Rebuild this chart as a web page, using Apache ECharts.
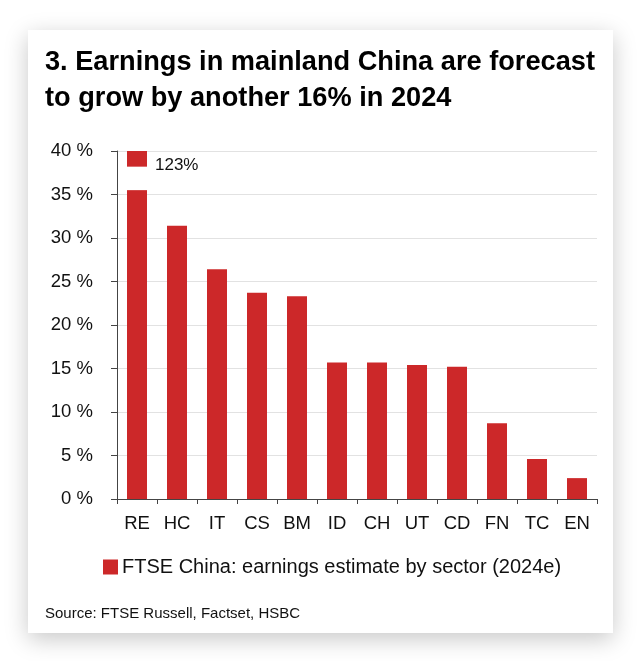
<!DOCTYPE html>
<html>
<head>
<meta charset="utf-8">
<script src="https://cdn.jsdelivr.net/npm/echarts@6/dist/echarts.min.js"></script>
<style>
html,body{margin:0;padding:0;background:#fff;}
#chart{width:640px;height:661px;}
</style>
</head>
<body>
<div id="chart"></div>
<script>
const categories = ['RE','HC','IT','CS','BM','ID','CH','UT','CD','FN','TC','EN'];
const values = [123, 31.4, 26.4, 23.7, 23.3, 15.7, 15.7, 15.4, 15.2, 8.7, 4.6, 2.4];
const seriesName = 'FTSE China: earnings estimate by sector (2024e)';
const yTicks = [0, 5, 10, 15, 20, 25, 30, 35, 40];
// axis break drawn on the RE bar: [category index, break start, break end]
const breakMarks = [[0, 35.5, 38.2]];
const titleText = '3. Earnings in mainland China are forecast\nto grow by another 16% in 2024';
const sourceText = 'Source: FTSE Russell, Factset, HSBC';

const RED = '#cc2829';
const FONT = '"Liberation Sans", Arial, Helvetica, sans-serif';
const chart = echarts.init(document.getElementById('chart'), null, {renderer: 'canvas'});

chart.setOption({
  backgroundColor: '#ffffff',
  animation: false,
  graphic: [
    {
      type: 'rect', z: -10, silent: true,
      shape: {x: 28, y: 30, width: 585, height: 603},
      style: {fill: '#ffffff', shadowBlur: 22, shadowColor: 'rgba(0,0,0,0.22)', shadowOffsetY: 6}
    },
    {
      type: 'text', left: 45, top: 606, silent: true,
      style: {text: sourceText, fill: '#111', font: '15px ' + FONT}
    }
  ],
  title: {
    text: titleText,
    left: 40, top: 40,
    textStyle: {fontFamily: FONT, fontWeight: 'bold', fontSize: 27.2, lineHeight: 36, color: '#000'}
  },
  legend: {
    left: 98, top: 552,
    icon: 'rect', itemWidth: 15, itemHeight: 15, itemGap: 5,
    textStyle: {fontFamily: FONT, fontSize: 20, color: '#111', padding: [0, 0, 0, -1]},
    data: [seriesName]
  },
  grid: {left: 117, right: 43, top: 151, bottom: 162, containLabel: false},
  xAxis: {
    type: 'category', data: categories,
    axisLine: {show: true, lineStyle: {color: '#444', width: 1}},
    axisTick: {show: true, length: 5, lineStyle: {color: '#444'}},
    axisLabel: {fontFamily: FONT, fontSize: 18.5, color: '#111', margin: 15, interval: 0}
  },
  yAxis: {
    type: 'value', min: 0, max: 40, interval: 5,
    axisLine: {show: true, lineStyle: {color: '#444', width: 1}},
    axisTick: {show: true, length: 6, lineStyle: {color: '#444'}},
    axisLabel: {fontFamily: FONT, fontSize: 18.5, color: '#111', margin: 24,
      formatter: v => yTicks.includes(v) ? v + ' %' : ''},
    splitLine: {show: true, lineStyle: {color: '#e2e2e2', width: 1}}
  },
  series: [
    {
      name: seriesName, type: 'bar', data: values, barWidth: '50%', clip: true,
      itemStyle: {color: RED}
    },
    {
      type: 'custom', silent: true, z: 5,
      data: breakMarks,
      encode: {x: 0, y: [1, 2]},
      renderItem: function (params, api) {
        const idx = api.value(0);
        const lo = api.coord([idx, api.value(1)]);
        const hi = api.coord([idx, api.value(2)]);
        const w = api.size([1, 0])[0] * 0.5;
        const labelPos = api.coord([idx, 38.4]);
        return {
          type: 'group',
          children: [
            {type: 'rect', shape: {x: lo[0] - w / 2 - 1, y: hi[1], width: w + 2, height: lo[1] - hi[1]},
             style: {fill: '#ffffff'}},
            {type: 'text', x: labelPos[0] + w / 2 + 8, y: labelPos[1],
             style: {text: values[idx] + '%', fill: '#111', font: '17px ' + FONT, verticalAlign: 'middle', align: 'left'}}
          ]
        };
      }
    }
  ]
});
</script>
</body>
</html>
